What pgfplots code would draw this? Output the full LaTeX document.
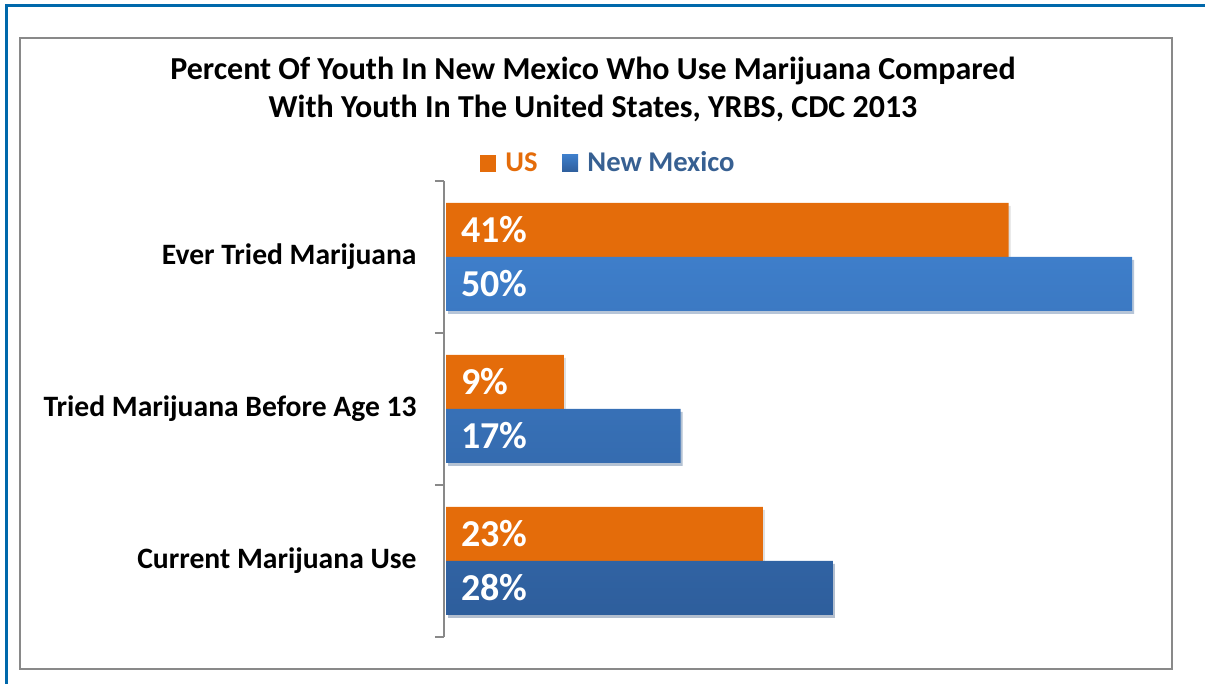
\documentclass[border=0pt]{standalone}
\usepackage{pgfplots}
\pgfplotsset{compat=1.18}
\usepackage{fontspec}
\setmainfont{Carlito}
\usetikzlibrary{shadows}
\definecolor{usorange}{RGB}{228,108,10}
\definecolor{nmtop}{RGB}{62,126,202}
\definecolor{nmbot}{RGB}{46,94,156}
\definecolor{nmtext}{RGB}{55,96,146}
\definecolor{framegray}{RGB}{137,137,137}
\definecolor{outerblue}{RGB}{0,104,171}
\begin{document}
\begin{tikzpicture}[x=1pt,y=1pt]
\useasboundingbox (0,0) rectangle (602.5,342);
\draw[outerblue, line width=1.5pt] (3,0) -- (3,339) -- (602.5,339);
\draw[framegray, line width=1pt] (10,7.5) rectangle (586,323);
\node[anchor=base, font=\bfseries\fontsize{16}{19}\selectfont] at (296.5,302) {Percent Of Youth In New Mexico Who Use Marijuana Compared};
\node[anchor=base, font=\bfseries\fontsize{16}{19}\selectfont] at (296.5,283) {With Youth In The United States, YRBS, CDC 2013};
\begin{axis}[
  at={(222pt,23.5pt)}, anchor=south west,
  scale only axis, width=344pt, height=228pt,
  xmin=-0.146, xmax=50,
  ymin=-0.5, ymax=2.5,
  axis x line=none,
  axis y line=left,
  axis line style={-, draw=framegray, line width=1pt},
  ytick={0,1,2},
  yticklabels={Current Marijuana Use, Tried Marijuana Before Age 13, Ever Tried Marijuana},
  major tick length=0pt,
  minor ytick={-0.5,0.5,1.5,2.5},
  minor tick length=4.5pt,
  tick align=outside,
  minor tick style={draw=framegray, line width=1pt},
  yticklabel style={font=\bfseries\fontsize{14.8}{17}\selectfont, anchor=east, inner sep=0pt, xshift=-13.5pt},
  clip=false,
]
\addplot[xbar, bar width=27pt, bar shift=13.5pt, draw=none, fill=usorange,
  drop shadow={shadow xshift=1pt, shadow yshift=-1.5pt, opacity=0.25}]
  coordinates {(41,2) (8.6,1) (23.1,0)};
\addplot[xbar, bar width=27pt, bar shift=-13.5pt, draw=none, top color=nmtop, bottom color=nmbot,
  drop shadow={shadow xshift=1pt, shadow yshift=-1.5pt, opacity=0.25}]
  coordinates {(50,2) (17.1,1) (28.2,0)};
\addplot[draw=none, mark=none, nodes near coords, point meta=explicit symbolic,
  every node near coord/.append style={anchor=west, text=white, font=\bfseries\fontsize{19}{22}\selectfont, xshift=7.5pt, yshift=13.5pt, inner sep=0pt}]
  table[meta=label] {
x y label
0 2 41\%
0 1 9\%
0 0 23\%
};
\addplot[draw=none, mark=none, nodes near coords, point meta=explicit symbolic,
  every node near coord/.append style={anchor=west, text=white, font=\bfseries\fontsize{19}{22}\selectfont, xshift=7.5pt, yshift=-13.5pt, inner sep=0pt}]
  table[meta=label] {
x y label
0 2 50\%
0 1 17\%
0 0 28\%
};
\end{axis}
% legend
\fill[usorange] (240,256) rectangle (248,264.5);
\node[anchor=base west, inner sep=0pt, text=usorange, font=\bfseries\fontsize{14.3}{17}\selectfont] at (252.5,256) {US};
\shade[top color=nmtop, bottom color=nmbot] (281,256) rectangle (289,264.5);
\node[anchor=base west, inner sep=0pt, text=nmtext, font=\bfseries\fontsize{14.3}{17}\selectfont] at (293.5,256) {New Mexico};
\end{tikzpicture}
\end{document}
